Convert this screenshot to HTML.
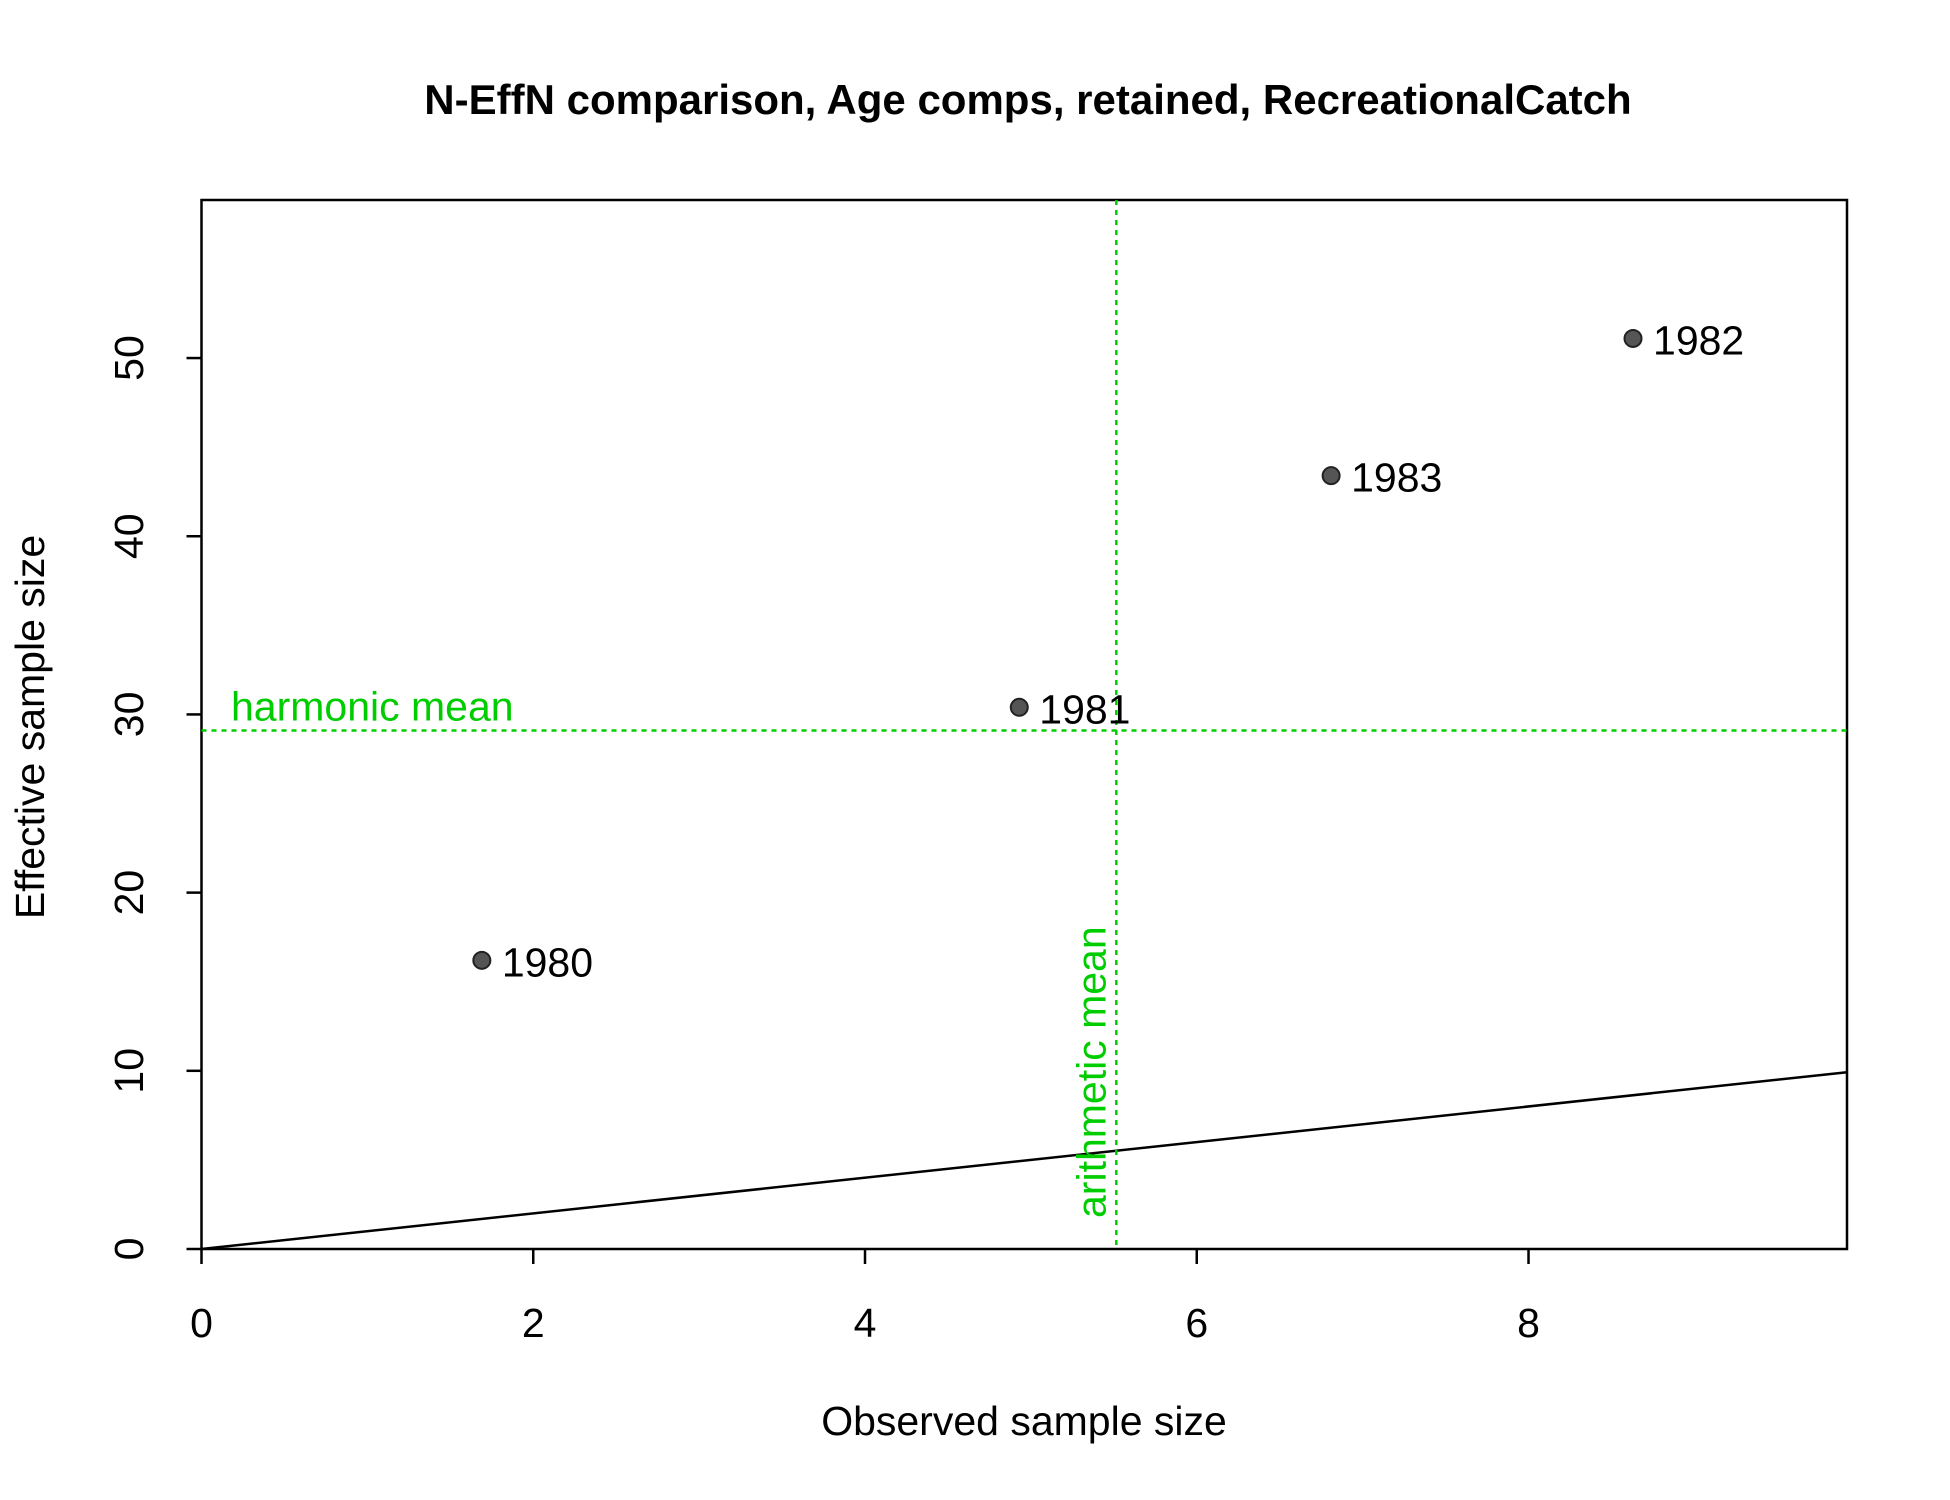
<!DOCTYPE html>
<html><head><meta charset="utf-8"><style>
html,body{margin:0;padding:0;background:#fff}
svg{display:block;font-family:"Liberation Sans",Arial,sans-serif}
</style></head><body>
<svg id="chart" width="1950" height="1500" viewBox="0 0 1950 1500" xmlns="http://www.w3.org/2000/svg">
<rect width="1950" height="1500" fill="#fff"/>
<text x="1028" y="114" font-size="42" font-weight="bold" text-anchor="middle">N-EffN comparison, Age comps, retained, RecreationalCatch</text>
<g id="plot"></g>
<text x="1024" y="1435" font-size="41" text-anchor="middle">Observed sample size</text>
<text transform="translate(44,727) rotate(-90)" font-size="41" text-anchor="middle">Effective sample size</text>
</svg>
<script>
const years = ["1980","1981","1982","1983"];
const obsN = [1.69, 4.93, 8.63, 6.81];
const effN = [16.2, 30.4, 51.1, 43.4];
const xTicks = [0,2,4,6,8];
const yTicks = [0,10,20,30,40,50];
const harmonicMean = 29.1;
const arithmeticMean = 5.515;

const L=201.5,R=1847,T=200,B=1249;
const xMin=0,xMax=9.92,yMin=0,yMax=58.87;
const sx=v=>L+(v-xMin)/(xMax-xMin)*(R-L);
const sy=v=>B-(v-yMin)/(yMax-yMin)*(B-T);
const NS="http://www.w3.org/2000/svg";
const g=document.getElementById('plot');
function mk(tag,attrs,parent){const e=document.createElementNS(NS,tag);for(const k in attrs)e.setAttribute(k,attrs[k]);(parent||g).appendChild(e);return e;}

let box=mk('rect',{x:L,y:T,width:R-L,height:B-T,fill:'none',stroke:'#000','stroke-width':2.5});



xTicks.forEach(t=>{
  const l=mk('line',{x1:sx(t),x2:sx(t),y1:B,y2:B+15,stroke:'#000','stroke-width':2.5});
  
  
  const tx=mk('text',{x:sx(t),y:1337,'font-size':41,'text-anchor':'middle'});
  tx.textContent=t;
  
  
});
yTicks.forEach(t=>{
  const l=mk('line',{x1:L-15,x2:L,y1:sy(t),y2:sy(t),stroke:'#000','stroke-width':2.5});
  
  
  const tx=mk('text',{transform:`translate(143,${sy(t)}) rotate(-90)`,'font-size':41,'text-anchor':'middle'});
  tx.textContent=t;
  
  
});

const ref=mk('line',{x1:sx(0),y1:sy(0),x2:sx(xMax),y2:sy(xMax),stroke:'#000','stroke-width':2.5});



const hm=mk('line',{x1:L,x2:R,y1:sy(harmonicMean),y2:sy(harmonicMean),stroke:'#00cd00','stroke-width':2.5,'stroke-dasharray':'5,5'});


const hmt=mk('text',{x:231,y:sy(harmonicMean)-10,'font-size':41,fill:'#00cd00'});
hmt.textContent='harmonic mean';


const am=mk('line',{x1:sx(arithmeticMean),x2:sx(arithmeticMean),y1:T,y2:B,stroke:'#00cd00','stroke-width':2.5,'stroke-dasharray':'5,5'});


const amt=mk('text',{transform:`translate(${sx(arithmeticMean)-11},1218) rotate(-90)`,'font-size':41,fill:'#00cd00'});
amt.textContent='arithmetic mean';



years.forEach((y,i)=>{
  const c=mk('circle',{cx:sx(obsN[i]),cy:sy(effN[i]),r:8.5,fill:'#555',stroke:'#222','stroke-width':2});
  
  
  const t=mk('text',{x:sx(obsN[i])+20,y:sy(effN[i])+16,'font-size':41});
  t.textContent=y;
  
  
});
</script>
</body></html>
